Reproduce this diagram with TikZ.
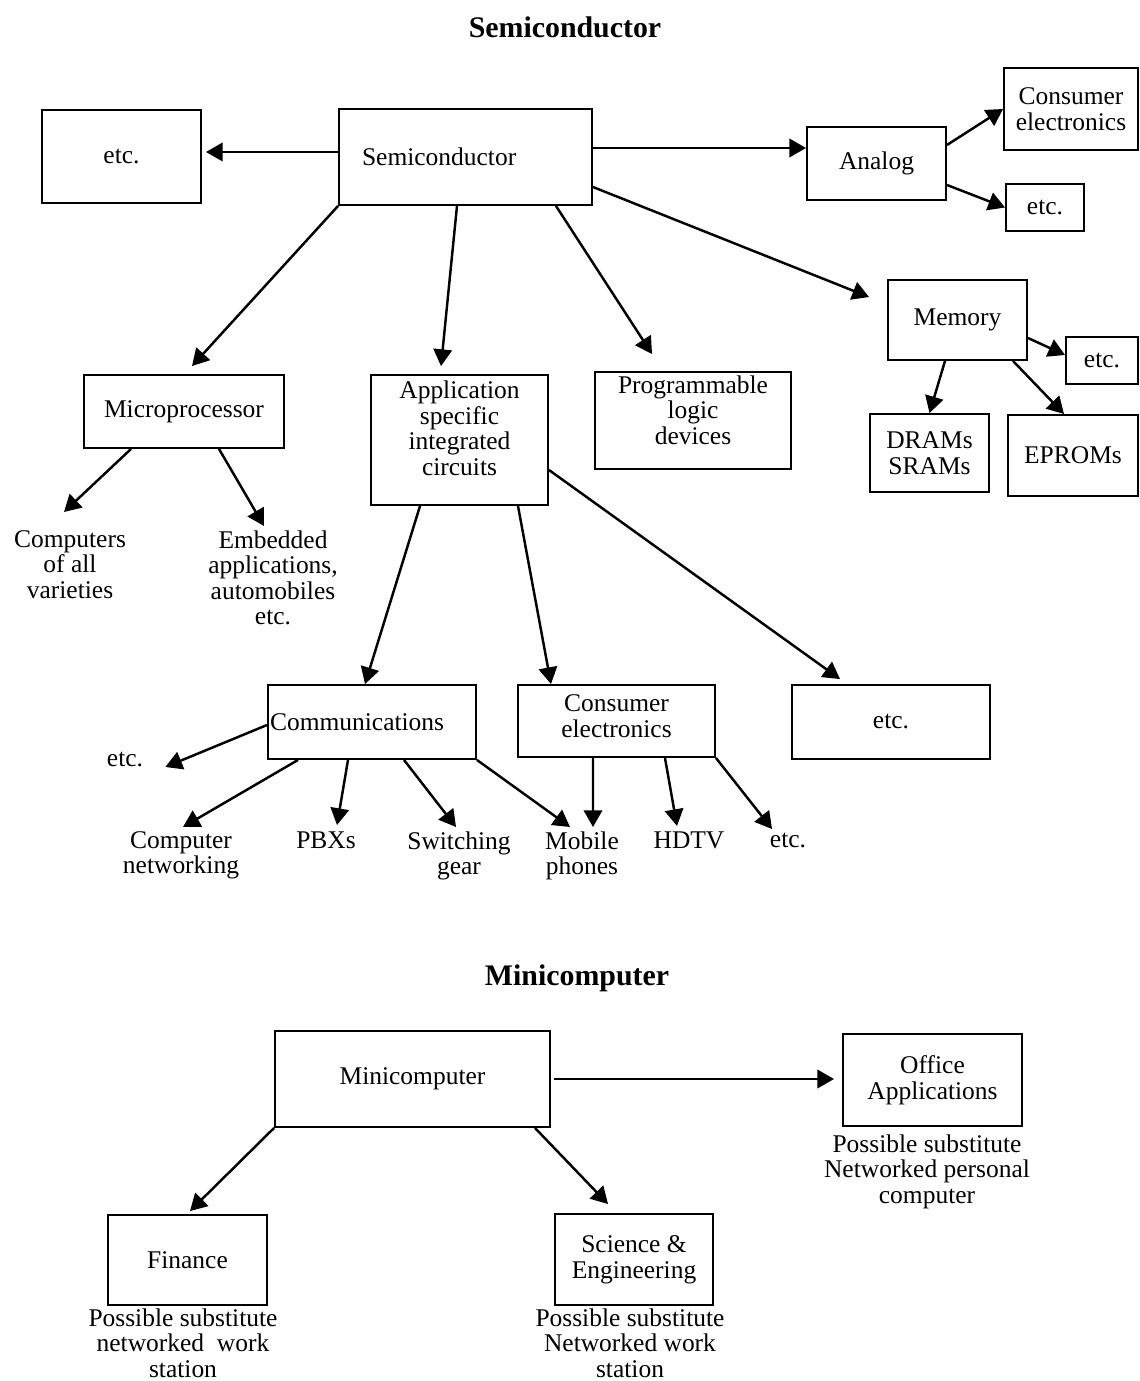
\documentclass[tikz,border=0pt]{standalone}
\usepackage{fontspec}
\setmainfont{Liberation Serif}
\usetikzlibrary{arrows.meta,positioning}

\newcommand{\boxfont}{\fontsize{14.5}{14.6}\selectfont}
\newcommand{\headfont}{\fontsize{17}{18}\selectfont\bfseries}

\begin{document}
\begin{tikzpicture}[x=0.02cm,y=-0.02cm]

  \useasboundingbox (0,0) rectangle (1139,1381);

  \coordinate (Semi) at (465.5,157);
  \coordinate (EtcL) at (121.5,156.5);
  \coordinate (Analog) at (876.5,163.5);
  \coordinate (ConsA) at (1071,109);
  \coordinate (EtcA) at (1045,207.5);
  \coordinate (Memory) at (957.5,320);
  \coordinate (EtcM) at (1102,360.5);
  \coordinate (Dram) at (929.5,453);
  \coordinate (Eprom) at (1073,455.5);
  \coordinate (Micro) at (184,411.5);
  \coordinate (Asic) at (459.5,440);
  \coordinate (Pld) at (693,420.5);
  \coordinate (Comm) at (372,722);
  \coordinate (ConsB) at (616.5,721);
  \coordinate (EtcC) at (891,722);
  \coordinate (Mini) at (412.5,1079);
  \coordinate (Office) at (932.5,1080);
  \coordinate (Finance) at (187.5,1260);
  \coordinate (Science) at (634,1259.5);

  \tikzstyle{bbox}=[draw=black,line width=1.1pt,
                    shape=rectangle,inner sep=2pt,
                    align=center,font=\boxfont];
  \tikzstyle{lbl}=[inner sep=0pt,align=center,font=\boxfont];
  \tikzstyle{arr}=[-{Triangle[length=9.5pt,width=10.5pt]},line width=1.4pt];

  % headings
  \node[font=\headfont] (SemiHead) at (565,27) {Semiconductor};
  \node[font=\headfont] (MiniHead) at (577,978) {Minicomputer};

  % semiconductor part
  \node[bbox,minimum width=5.06cm,minimum height=1.92cm,
        text width=4.14cm,inner xsep=0.46cm,align=left] (SemiBox) at (Semi) {Semiconductor};
  \node[bbox,minimum width=3.18cm,minimum height=1.86cm] (EtcLBox) at (EtcL) {etc.};
  \draw[arr] ([yshift=0.1cm]SemiBox.west) -- ([yshift=0.1cm,xshift=0.08cm]SemiBox.west -| EtcLBox.east);

  \node[bbox,minimum width=2.78cm,minimum height=1.46cm] (AnalogBox) at (Analog) {Analog};
  \draw[arr] ([yshift=0.18cm]SemiBox.east) -- ([yshift=0.18cm]SemiBox.east -| AnalogBox.west);

  \node[bbox,minimum width=2.68cm,minimum height=1.64cm] (ConsABox) at (ConsA) {Consumer\\ electronics};
  \draw[arr] ([yshift=0.37cm]AnalogBox.east) -- (ConsABox.west);

  \node[bbox,minimum width=1.56cm,minimum height=0.94cm] (EtcABox) at (EtcA) {etc.};
  \draw[arr] ([yshift=-0.43cm]AnalogBox.east) -- (EtcABox.west);

  \node[bbox,minimum width=2.78cm,minimum height=1.6cm] (MemoryBox) at (Memory) {Memory};
  \draw[arr] ([yshift=-0.6cm]SemiBox.east) -- ([shift={(-0.36cm,-0.36cm)}]MemoryBox.north west);

  \node[bbox,minimum width=1.44cm,minimum height=0.94cm] (EtcMBox) at (EtcM) {etc.};
  \draw[arr] ([yshift=-0.36cm]MemoryBox.east) -- ([yshift=0.11cm]EtcMBox.west);

  \node[bbox,minimum width=2.38cm,minimum height=1.56cm] (DramBox) at (Dram) {DRAMs\\ SRAMs};
  \draw[arr] ([xshift=-0.25cm]MemoryBox.south) -- (DramBox.north);

  \node[bbox,minimum width=2.6cm,minimum height=1.62cm] (EpromBox) at (Eprom) {EPROMs};
  \draw[arr] ([xshift=1.11cm]MemoryBox.south) -- ([xshift=-0.18cm]EpromBox.north);

  \node[bbox,minimum width=4.0cm,minimum height=1.46cm] (MicroBox) at (Micro) {Microprocessor};
  \draw[arr] (SemiBox.south west) -- ([shift={(0.16cm,0.16cm)}]MicroBox.north);

  \node[bbox,minimum width=3.54cm,minimum height=2.6cm,text depth=0.48cm] (AsicBox) at (Asic) {Application\\ specific\\ integrated\\ circuits};
  \draw[arr] ([xshift=-0.17cm]SemiBox.south) -- ([shift={(-0.37cm,0.16cm)}]AsicBox.north);

  \node[bbox,minimum width=3.92cm,minimum height=1.86cm,text depth=0.42cm] (PldBox) at (Pld) {Programmable\\ logic\\ devices};
  \draw[arr] ([xshift=1.81cm]SemiBox.south) -- ([shift={(-0.82cm,0.34cm)}]PldBox.north);

  \node[lbl,anchor=north] (Computers) at (70,530) {Computers\\ of all\\ varieties};
  \draw[arr] ([xshift=-1.06cm]MicroBox.south) -- ([shift={(-0.12cm,0.36cm)}]Computers.north);

  \node[lbl,anchor=north] (Embedded) at (273,530) {Embedded\\ applications,\\ automobiles\\ etc.};
  \draw[arr] ([xshift=0.7cm]MicroBox.south) -- ([shift={(-0.18cm,0.08cm)}]Embedded.north);

  \node[bbox,minimum width=4.16cm,minimum height=1.48cm,
        text width=4.08cm,inner xsep=0.04cm,align=left] (CommBox) at (Comm) {Communications};
  \draw[arr] ([xshift=-0.79cm]AsicBox.south) -- ([xshift=-0.14cm]CommBox.north);

  \node[bbox,minimum width=3.94cm,minimum height=1.44cm,text depth=0.2cm] (ConsBBox) at (ConsB) {Consumer\\ electronics};
  \draw[arr] ([xshift=1.17cm]AsicBox.south) -- ([xshift=-1.31cm]ConsBBox.north);

  \node[bbox,minimum width=3.96cm,minimum height=1.48cm] (EtcCBox) at (EtcC) {etc.};
  \draw[arr] ([yshift=-0.6cm]AsicBox.east) -- ([shift={(-1.02cm,0.1cm)}]EtcCBox.north);

  \node[lbl] (EtcComm) at (125,760) {etc.};
  \draw[arr] ([yshift=-0.06cm]CommBox.west) -- ([shift={(0.44cm,-0.14cm)}]EtcComm.east);

  \node[lbl,anchor=north] (CompNet) at (181,831) {Computer\\ networking};
  \draw[arr] ([xshift=-1.48cm]CommBox.south) -- ([shift={(0.04cm,0.08cm)}]CompNet.north);

  \node[lbl,anchor=north] (Pbx) at (326,831) {PBXs};
  \draw[arr] ([xshift=-0.48cm]CommBox.south) -- ([shift={(0.22cm,0.12cm)}]Pbx.north);

  \node[lbl,anchor=north] (Switch) at (459,831) {Switching\\ gear};
  \draw[arr] ([xshift=0.64cm]CommBox.south) -- ([shift={(-0.06cm,0.08cm)}]Switch.north);

  \node[lbl,anchor=north] (Mobile) at (582,831) {Mobile\\ phones};
  \draw[arr] (CommBox.south east) -- ([shift={(-0.24cm,0.08cm)}]Mobile.north);
  \draw[arr] ([xshift=-0.47cm]ConsBBox.south) -- ([shift={(0.22cm,0.08cm)}]Mobile.north);

  \node[lbl,anchor=north] (Hdtv) at (689,831) {HDTV};
  \draw[arr] ([xshift=0.97cm]ConsBBox.south) -- ([shift={(-0.24cm,0.1cm)}]Hdtv.north);

  \node[lbl,anchor=north] (EtcCons) at (788,833) {etc.};
  \draw[arr] (ConsBBox.south east) -- ([shift={(-0.32cm,0.08cm)}]EtcCons.north);

  % minicomputer part
  \node[bbox,minimum width=5.5cm,minimum height=1.92cm] (MiniBox) at (Mini) {Minicomputer};

  \node[bbox,minimum width=3.58cm,minimum height=1.84cm] (OfficeBox) at (Office) {Office\\ Applications};
  \draw[arr] ([xshift=0.06cm]MiniBox.east) -- ([xshift=-0.16cm]MiniBox.east -| OfficeBox.west);
  \node[lbl,anchor=north] (OfficeSub) at (927,1134) {Possible substitute\\ Networked personal\\ computer};

  \node[bbox,minimum width=3.18cm,minimum height=1.8cm] (FinanceBox) at (Finance) {Finance};
  \draw[arr] (MiniBox.south west) -- ([shift={(0.05cm,0.06cm)}]FinanceBox.north);
  \node[lbl,anchor=north] (FinanceSub) at (183,1308) {Possible substitute\\ networked\ \ work\\ station};

  \node[bbox,minimum width=3.16cm,minimum height=1.82cm] (ScienceBox) at (Science) {Science \&\\ Engineering};
  \draw[arr] ([xshift=2.45cm]MiniBox.south) -- ([shift={(-0.52cm,0.18cm)}]ScienceBox.north);
  \node[lbl,anchor=north] (ScienceSub) at (630,1308) {Possible substitute\\ Networked work\\ station};

\end{tikzpicture}
\end{document}
